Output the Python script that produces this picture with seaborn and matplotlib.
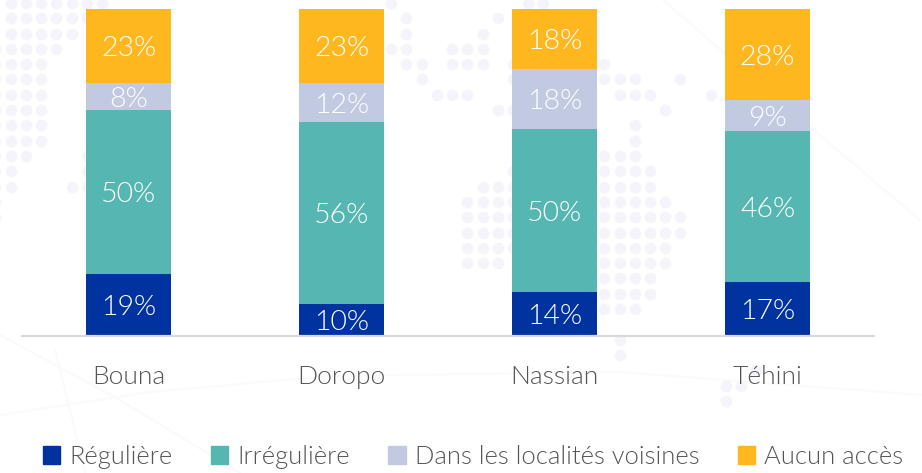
import numpy as np
import matplotlib
matplotlib.use('Agg')
import matplotlib.pyplot as plt
import seaborn as sns
from matplotlib.patches import Patch

communes = ['Bouna', 'Doropo', 'Nassian', 'Téhini']
series_names = ['Régulière', 'Irrégulière', 'Dans les localités voisines', 'Aucun accès']

# heights (the printed labels are rounded and don't always agree)
reguliere = [18.8, 9.7, 13.2, 16.3]
irreguliere = [50.3, 55.7, 50.0, 46.3]
voisines = [8.3, 12.0, 18.4, 9.5]
aucun = [22.6, 22.6, 18.4, 27.9]

reguliere_labels = ['19%', '10%', '14%', '17%']
irreguliere_labels = ['50%', '56%', '50%', '46%']
voisines_labels = ['8%', '12%', '18%', '9%']
aucun_labels = ['23%', '23%', '18%', '28%']

series_values = [reguliere, irreguliere, voisines, aucun]
series_labels = [reguliere_labels, irreguliere_labels, voisines_labels, aucun_labels]
colors = ['#0033A0', '#56B6B1', '#C2CAE2', '#FFB71F']

# faint dotted map behind the chart: (row, first column, last column) on a dot grid
bg_dot_runs = [
    (0, 0, 6), (1, 0, 5), (2, 0, 4), (3, -1, 3), (4, -1, 2), (5, -1, 2), (6, -1, 2), (7, -1, 2),
    (8, -1, 2), (9, -1, 2), (10, -1, 1), (10, 5, 5), (11, -1, 0), (11, 5, 5), (12, -1, 0), (12, 4, 5),
    (13, -1, -1), (14, -1, -1),
    (0, 25, 25), (0, 34, 35), (1, 26, 26), (1, 32, 32), (2, 26, 26), (2, 31, 31),
    (3, 25, 26), (3, 29, 31), (4, 26, 27), (4, 29, 31), (4, 33, 33), (4, 39, 39),
    (5, 27, 27), (5, 33, 33), (5, 39, 41), (5, 44, 44), (6, 28, 30), (6, 40, 42), (6, 46, 46),
    (7, 32, 33), (7, 43, 43), (8, 41, 41), (9, 41, 41), (10, 39, 41), (11, 33, 33), (11, 39, 42),
    (12, 31, 33), (12, 39, 42), (13, 30, 33), (13, 39, 43), (14, 30, 33), (14, 39, 44),
    (15, 30, 33), (15, 39, 44), (16, 30, 33), (16, 39, 43), (17, 30, 32), (17, 39, 43),
    (18, 39, 42), (19, 39, 42), (20, 39, 41), (22, 40, 40), (23, 40, 40),
    (24, 49, 49), (25, 47, 48), (26, 47, 47),
]
# faint curves behind the chart, in pixels
bg_curves = [
    ([0, 120, 240], [335, 400, 473]),
    ([55, 70, 85], [350, 410, 473]),
    ([0, 150, 330, 620, 922], [415, 392, 376, 372, 395]),
    ([663, 790, 920], [0, 110, 220]),
]

sns.set_theme(style='white')
plt.rcParams['font.family'] = ['Lato', 'DejaVu Sans']
plt.rcParams['font.weight'] = 300

fig = plt.figure(figsize=(9.22, 4.73), dpi=100)

# background layer in pixel coordinates
bg = fig.add_axes([0, 0, 1, 1], zorder=0)
dot_x, dot_y = [], []
for row, c0, c1 in bg_dot_runs:
    for c in range(c0, c1 + 1):
        dot_x.append(10.7 + 15.22 * c)
        dot_y.append(3 + 15.3 * row)
for xs, ys in bg_curves:
    bg.plot(xs, ys, color='#FAFAFB', lw=1.5)
sns.scatterplot(x=dot_x, y=dot_y, s=70, color='#F4F4FA', linewidth=0, ax=bg)
bg.set_xlim(0, 922)
bg.set_ylim(473, 0)
bg.axis('off')

# the chart itself
ax = fig.add_axes([22 / 922, (473 - 335.5) / 473, 852 / 922, 326.5 / 473], zorder=1)
ax.patch.set_alpha(0)

bottom = np.zeros(len(communes))
for values, labels, color in zip(series_values, series_labels, colors):
    sns.barplot(x=communes, y=values, bottom=bottom, color=color, saturation=1, width=0.4, linewidth=0, ax=ax)
    # bar_label centres on the glyph box, which sits a bit high here
    texts = ax.bar_label(ax.containers[-1], labels=labels, label_type='center', color='white', fontsize=20.5)
    for t in texts:
        t.set_position((0, -2))
    bottom = bottom + np.array(values)

ax.set_xlim(-0.5, 3.5)
ax.set_ylim(0, 100)
ax.set_yticks([])
ax.tick_params(axis='x', length=0, pad=21, labelsize=19, labelcolor='#555555')
sns.despine(ax=ax, left=True)
ax.spines['bottom'].set_color('#D9D9D9')
ax.spines['bottom'].set_linewidth(1.6)

handles = [Patch(color=c, label=n) for c, n in zip(colors, series_names)]
fig.legend(handles=handles, ncol=4, loc='center', bbox_to_anchor=(473 / 922, (473 - 457) / 473), frameon=False,
           fontsize=18.4, labelcolor='#555555', handlelength=0.68, handleheight=0.72,
           handletextpad=0.35, columnspacing=1.5, borderpad=0)

fig.savefig('out.png', dpi=100)
